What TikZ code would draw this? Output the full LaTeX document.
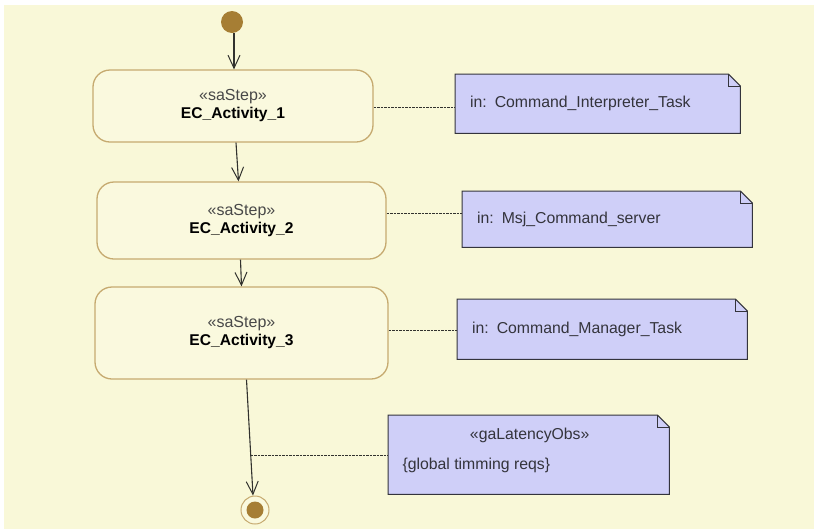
\documentclass[tikz,border=0pt]{standalone}
\usepackage{fontspec}
\setmainfont{Liberation Sans}
\usetikzlibrary{arrows.meta,calc}

\definecolor{paper}{RGB}{249,248,216}
\definecolor{stepfill}{RGB}{250,249,222}
\definecolor{stepline}{RGB}{198,170,112}
\definecolor{notefill}{RGB}{207,207,248}
\definecolor{noteline}{RGB}{52,52,60}
\definecolor{dotfill}{RGB}{166,126,52}
\definecolor{flowline}{RGB}{50,50,46}
\definecolor{stereo}{RGB}{72,72,72}

\pgfdeclarelayer{paperlayer}
\pgfdeclarelayer{notelayer}
\pgfsetlayers{paperlayer,notelayer,main}

\newcommand{\stereotxt}[1]{{\color{stereo}\fontsize{16}{18}\selectfont\guillemotleft #1\guillemotright}}
\newcommand{\steptitle}[1]{{\bfseries #1}}

\tikzset{
  stepbox/.style={draw=stepline, line width=1.3pt, fill=stepfill,
    rounded corners=17pt, align=center, inner sep=0pt,
    font=\fontsize{15.6}{18}\selectfont},
  notebox/.style={draw=none, fill=none, inner xsep=15pt, inner ysep=0pt,
    anchor=north west, align=left, text=noteline,
    font=\fontsize{15.8}{30}\selectfont},
  notetext/.style={text=noteline, font=\fontsize{15.8}{19}\selectfont},
  noteshape/.style={fill=notefill, draw=noteline, line width=1pt},
  flow/.style={draw=flowline, line width=1.1pt,
    -{Straight Barb[length=13pt,width=12pt,line width=1pt]}},
  anchorline/.style={draw=flowline, line width=0.8pt, dash pattern=on 2.5pt off 1pt},
}

\begin{document}
\begin{tikzpicture}[x=1pt,y=-1pt]
\useasboundingbox (0,0) rectangle (815,531);
\begin{pgfonlayer}{paperlayer}
  \fill[paper] (4,5) rectangle (814,529);
\end{pgfonlayer}

% initial and final nodes
\node[circle, fill=dotfill, minimum size=22pt, inner sep=0pt] (init) at (232,22) {};
\node[circle, draw=stepline, fill=stepfill, line width=1pt, minimum size=28pt, inner sep=0pt] (fin) at (255,510) {};
\fill[dotfill] (fin.center) circle (8.5pt);

% activity steps
\node[stepbox, minimum width=280pt, minimum height=72pt] (b1) at (233,106)
  {\stereotxt{saStep}\\ \steptitle{EC\_Activity\_1}};
\node[stepbox, minimum width=289pt, minimum height=77pt] (b2) at (241.5,220.5)
  {\stereotxt{saStep}\\ \steptitle{EC\_Activity\_2}};
\node[stepbox, minimum width=293pt, minimum height=92pt] (b3) at (241.5,333)
  {\stereotxt{saStep}\\ \steptitle{EC\_Activity\_3}};

% comment notes
\node[notebox, minimum width=285pt, minimum height=59pt, text width=255pt] (n1) at (455,74)
  {in: Command\_Interpreter\_Task};
\node[notebox, minimum width=290pt, minimum height=56pt, text width=260pt] (n2) at (462,191)
  {in: Msj\_Command\_server};
\node[notebox, minimum width=290pt, minimum height=60pt, text width=260pt] (n3) at (457,299)
  {in: Command\_Manager\_Task};
\node[notebox, minimum width=281pt, minimum height=79pt, text width=253pt, inner xsep=14pt] (n4) at (388,415)
  {};
\node[notetext, anchor=center] (n4a) at ($(n4.north)+(1,20)$)
  {\guillemotleft gaLatencyObs\guillemotright};
\node[notetext, anchor=west] (n4b) at ($(n4.north west)+(11,50)$)
  {\{global timming reqs\}};

\begin{pgfonlayer}{notelayer}
  \foreach \n in {n1,n2,n3,n4} {
    \path[noteshape] (\n.north west) -- ([xshift=-12pt]\n.north east)
      -- ([yshift=-12pt]\n.north east) -- (\n.south east) -- (\n.south west) -- cycle;
    \draw[noteline, line width=0.8pt] ([xshift=-12pt]\n.north east) |- ([yshift=-12pt]\n.north east);
  }
\end{pgfonlayer}

% control flow
\draw[flow] ([xshift=2pt]init.south) -- ([xshift=1pt]b1.north);
\draw[flow] ([xshift=3pt]b1.south) -- ([xshift=-3pt]b2.north);
\draw[flow] ([xshift=-1pt]b2.south) -- (b3.north);
\path ([xshift=5pt]b3.south) -- coordinate[pos=0.65] (tap) ([xshift=-2pt]fin.north);
\draw[flow] ([xshift=5pt]b3.south) -- ([xshift=-2pt]fin.north);

% note anchors
\draw[anchorline] (b1.east |- 0,107) -- (n1.west |- 0,107);
\draw[anchorline] (b2.east |- 0,213) -- (n2.west |- 0,213);
\draw[anchorline] (b3.east |- 0,330) -- (n3.west |- 0,330);
\draw[anchorline] (tap) -- (n4.west |- tap);
\end{tikzpicture}
\end{document}
